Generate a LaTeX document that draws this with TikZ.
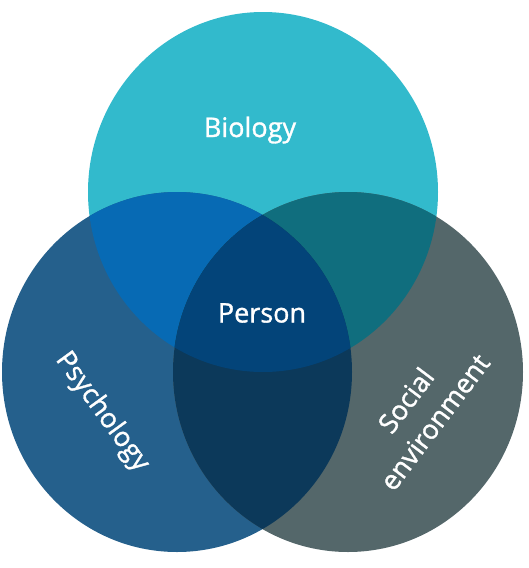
\documentclass[tikz,border=0pt]{standalone}
\usepackage{fontspec}
\setmainfont{Open Sans}
\newfontfamily\lblfont{Open Sans}[FakeBold=1.2]
\definecolor{biocol}{HTML}{32BACC}
\definecolor{psycol}{HTML}{25608C}
\definecolor{soccol}{HTML}{54676A}
\definecolor{biopsy}{HTML}{076AB4}
\definecolor{biosoc}{HTML}{106E7E}
\definecolor{psysoc}{HTML}{0C395A}
\definecolor{allcol}{HTML}{034479}

\begin{document}
\begin{tikzpicture}[x=1pt,y=-1pt,disc/.style={x radius=175pt,y radius=180pt},
    lbl/.style={text=white,font=\lblfont\fontsize{27}{36}\selectfont,align=center}]
  \useasboundingbox (0,0) rectangle (528,568);
  \coordinate (bio) at (263,192);
  \coordinate (psy) at (177,372);
  \coordinate (soc) at (348,372);
  % the three discs
  \fill[biocol] (bio) ellipse[disc];
  \fill[psycol] (psy) ellipse[disc];
  \fill[soccol] (soc) ellipse[disc];
  % overlaps
  \begin{scope}
    \clip (bio) ellipse[disc];
    \fill[biopsy] (psy) ellipse[disc];
    \fill[biosoc] (soc) ellipse[disc];
  \end{scope}
  \begin{scope}
    \clip (psy) ellipse[disc];
    \fill[psysoc] (soc) ellipse[disc];
    \clip (soc) ellipse[disc];
    \fill[allcol] (bio) ellipse[disc];
  \end{scope}
  % labels
  \node[lbl](biology) at (250,130){Biology};
  \node[lbl](person) at (262,313){Person};
  \node[lbl,rotate=-54](psychology) at (102,412){Psychology};
  \node[lbl,rotate=53](social) at (420,411){Social\\environment};
\end{tikzpicture}
\end{document}
